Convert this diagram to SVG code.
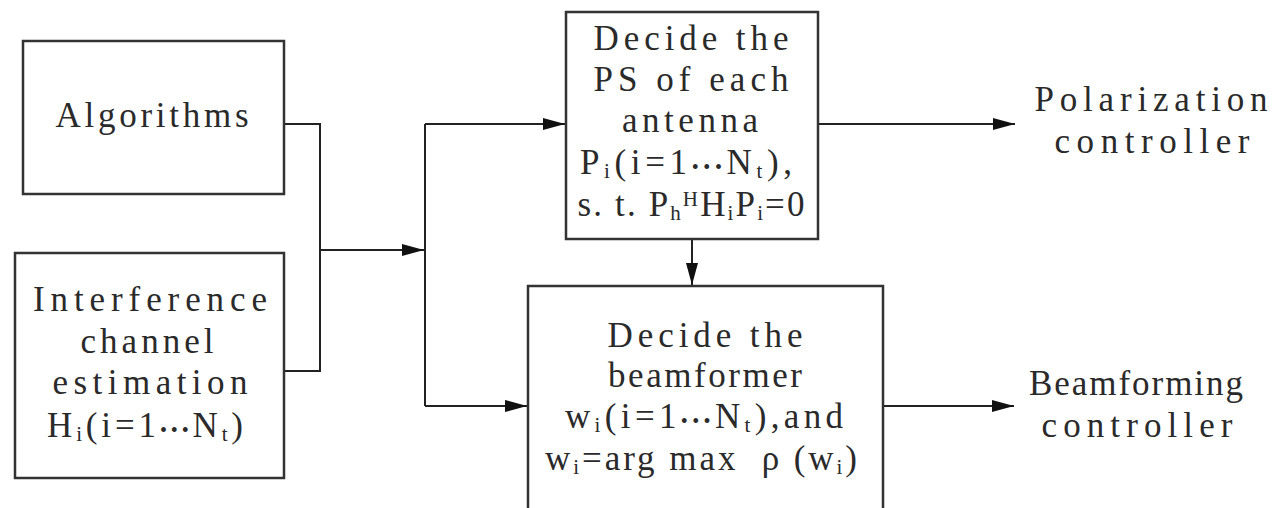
<svg xmlns="http://www.w3.org/2000/svg" width="1288" height="508" viewBox="0 0 1288 508">
<style>
.box{fill:#fff;stroke:#333;stroke-width:2.5}
.ln{fill:none;stroke:#222;stroke-width:2}
text{font-family:"Liberation Serif","Times New Roman",serif;font-size:35px;fill:#2a2a2a;text-anchor:middle;white-space:pre}
.sub{font-size:21px}
.dot{font-size:20px}
</style>
<defs>
<marker id="ah" markerUnits="userSpaceOnUse" markerWidth="24" markerHeight="14" refX="22" refY="6" orient="auto">
<path d="M0,0 L22,6 L0,12 z" fill="#111"/>
</marker>
</defs>
<g id="connectors">
<polyline class="ln" points="284,124 320,124 320,371 284,371"/>
<line class="ln" x1="320" y1="250" x2="424" y2="250" marker-end="url(#ah)"/>
<line class="ln" x1="425" y1="124" x2="425" y2="406"/>
<line class="ln" x1="425" y1="124" x2="565" y2="124" marker-end="url(#ah)"/>
<line class="ln" x1="425" y1="406" x2="527" y2="406" marker-end="url(#ah)"/>
<line class="ln" x1="692" y1="239" x2="692" y2="285" marker-end="url(#ah)"/>
<line class="ln" x1="818" y1="124" x2="1015" y2="124" marker-end="url(#ah)"/>
<line class="ln" x1="883" y1="406" x2="1014" y2="406" marker-end="url(#ah)"/>
</g>
<g id="algorithms">
<rect class="box" x="23" y="41" width="261" height="153"/>
<text x="152" y="127" fill="#555" textLength="193" lengthAdjust="spacing">Algorithms</text>
</g>
<g id="interference">
<rect class="box" x="15" y="253" width="269" height="225"/>
<text x="150" y="311" textLength="234" lengthAdjust="spacing">Interference</text>
<text x="147" y="353" textLength="133" lengthAdjust="spacing">channel</text>
<text x="150" y="394" textLength="195" lengthAdjust="spacing">estimation</text>
<text x="145" y="437" textLength="196" lengthAdjust="spacing">H<tspan class="sub" dy="4">i</tspan><tspan dy="-4">(i=1</tspan><tspan class="dot">•••</tspan>N<tspan class="sub" dy="4">t</tspan><tspan dy="-4">)</tspan></text>
</g>
<g id="ps">
<rect class="box" x="566" y="12" width="252" height="227"/>
<text x="691" y="50" textLength="195" lengthAdjust="spacing">Decide the</text>
<text x="691" y="91" textLength="195" lengthAdjust="spacing">PS of each</text>
<text x="690" y="132" textLength="136" lengthAdjust="spacing">antenna</text>
<text x="686" y="174" textLength="212" lengthAdjust="spacing">P<tspan class="sub" dy="4">i</tspan><tspan dy="-4">(i=1</tspan><tspan class="dot">•••</tspan>N<tspan class="sub" dy="4">t</tspan><tspan dy="-4">),</tspan></text>
<text x="691" y="216" textLength="227" lengthAdjust="spacing">s. t. P<tspan class="sub" dy="4">h</tspan><tspan class="sub" dy="-14">H</tspan><tspan dy="10">H</tspan><tspan class="sub" dy="4">i</tspan><tspan dy="-4">P</tspan><tspan class="sub" dy="4">i</tspan><tspan dy="-4">=0</tspan></text>
</g>
<g id="beamformer">
<rect class="box" x="528" y="286" width="355" height="240"/>
<text x="705" y="347" textLength="195" lengthAdjust="spacing">Decide the</text>
<text x="705" y="387" textLength="194" lengthAdjust="spacing">beamformer</text>
<text x="704" y="428" textLength="278" lengthAdjust="spacing">w<tspan class="sub" dy="4">i</tspan><tspan dy="-4">(i=1</tspan><tspan class="dot">•••</tspan>N<tspan class="sub" dy="4">t</tspan><tspan dy="-4">),and</tspan></text>
<text x="701" y="470" textLength="312" lengthAdjust="spacing">w<tspan class="sub" dy="4">i</tspan><tspan dy="-4">=arg max  ρ (w</tspan><tspan class="sub" dy="4">i</tspan><tspan dy="-4">)</tspan></text>
</g>
<g id="polarization">
<text x="1151" y="111" textLength="233" lengthAdjust="spacing">Polarization</text>
<text x="1152" y="153" textLength="195" lengthAdjust="spacing">controller</text>
</g>
<g id="beamforming">
<text x="1136" y="395" textLength="214" lengthAdjust="spacing">Beamforming</text>
<text x="1137" y="437" textLength="191" lengthAdjust="spacing">controller</text>
</g>
</svg>
